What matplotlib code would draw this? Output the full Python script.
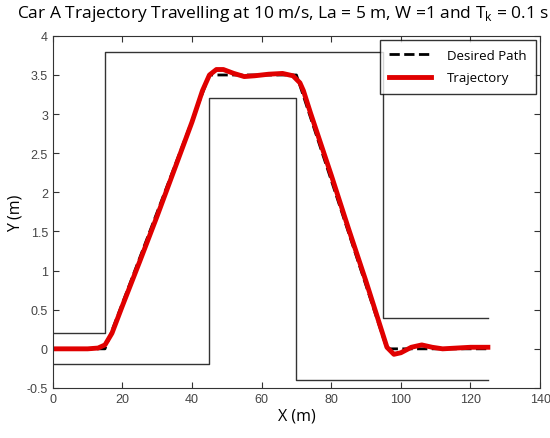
import matplotlib.pyplot as plt
from matplotlib.ticker import FormatStrFormatter

# boundaries of the lane change corridor
upper_x = [0, 15, 15, 95, 95, 125]
upper_y = [0.2, 0.2, 3.8, 3.8, 0.4, 0.4]
lower_x = [0, 45, 45, 70, 70, 125]
lower_y = [-0.2, -0.2, 3.2, 3.2, -0.4, -0.4]

# desired path
des_x = [0, 15, 45, 70, 96, 125]
des_y = [0, 0, 3.5, 3.5, 0, 0]

# vehicle trajectory
traj_x = [0, 10, 13, 15, 17, 20, 25, 30, 35, 40, 43, 45, 47, 49, 52, 55, 58, 62, 66, 69,
          71, 72, 74, 77, 80, 85, 90, 94, 96, 98, 100, 103, 106, 109, 112, 116, 120, 125]
traj_y = [0, 0, 0.01, 0.05, 0.2, 0.55, 1.12, 1.7, 2.3, 2.9, 3.3, 3.5, 3.57, 3.57, 3.52, 3.48,
          3.49, 3.51, 3.52, 3.49, 3.4, 3.3, 3.02, 2.62, 2.22, 1.53, 0.86, 0.3, 0.02, -0.07, -0.05,
          0.02, 0.05, 0.02, 0.0, 0.01, 0.02, 0.02]

fig = plt.figure(figsize=(5.5, 4.39), dpi=100)
ax = fig.add_axes([0.096, 0.114, 0.886, 0.802])

ax.plot(upper_x, upper_y, color='#333333', lw=1)
ax.plot(lower_x, lower_y, color='#333333', lw=1)
ax.plot(des_x, des_y, 'k--', lw=2, label='Desired Path')
ax.plot(traj_x, traj_y, color='#e00000', lw=3.5, label='Trajectory')

ax.set_xlim(0, 140)
ax.set_ylim(-0.5, 4)
ax.set_xticks(range(0, 141, 20))
ax.set_yticks([-0.5, 0, 0.5, 1, 1.5, 2, 2.5, 3, 3.5, 4])
ax.yaxis.set_major_formatter(FormatStrFormatter('%g'))
ax.tick_params(direction='in', top=True, right=True, labelsize=9, colors='#333333',
               labelcolor='#444444', length=4)
for lab in ax.get_xticklabels() + ax.get_yticklabels():
    lab.set_family('Liberation Sans')
for s in ax.spines.values():
    s.set_color('#333333')

ax.set_xlabel('X (m)', fontsize=11.5, family='Open Sans', labelpad=2)
ax.set_ylabel('Y (m)', fontsize=11.5, family='Open Sans', labelpad=2)
fig.suptitle('Car A Trajectory Travelling at 10 m/s, La = 5 m, W =1 and T$_\\mathregular{k}$ = 0.1 s',
             fontsize=12.5, family='Open Sans', x=0.515, y=0.99)

leg = ax.legend(loc='upper right', prop={'family': 'Open Sans', 'size': 9.5}, fancybox=False,
                edgecolor='black', borderaxespad=0.3, handlelength=3.2, borderpad=0.7,
                labelspacing=0.7, handletextpad=1.2)
leg.get_frame().set_linewidth(1)

fig.savefig('out.png')
